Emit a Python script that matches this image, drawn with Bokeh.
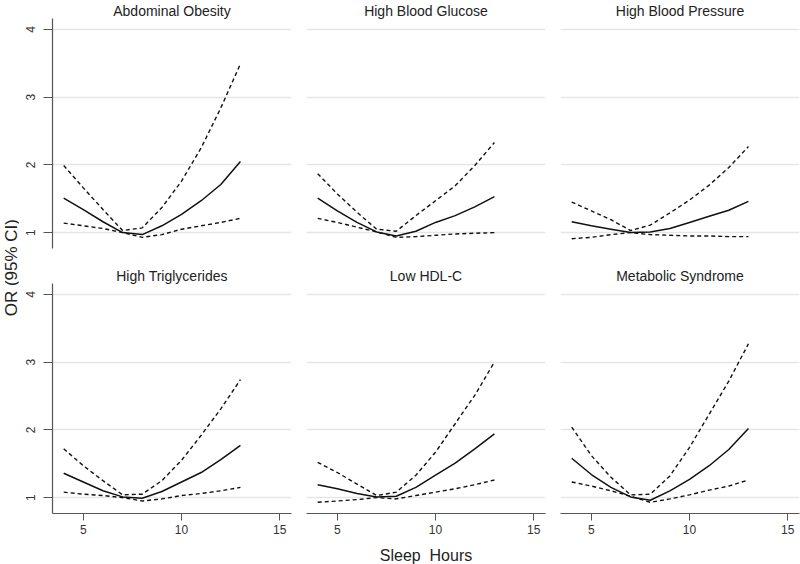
from bokeh.plotting import figure
from bokeh.layouts import row, column
from bokeh.models import Div, FixedTicker, Range1d
from bokeh.embed import file_html
from bokeh.resources import INLINE

hours = [4, 5, 6, 7, 8, 9, 10, 11, 12, 13]

titles = ["Abdominal Obesity", "High Blood Glucose", "High Blood Pressure",
          "High Triglycerides", "Low HDL-C", "Metabolic Syndrome"]

or_abd = [1.51, 1.34, 1.16, 1.00, 0.97, 1.10, 1.27, 1.47, 1.71, 2.05]
lo_abd = [1.14, 1.10, 1.06, 1.00, 0.93, 0.97, 1.05, 1.10, 1.15, 1.21]
hi_abd = [1.99, 1.66, 1.34, 1.03, 1.07, 1.37, 1.76, 2.25, 2.84, 3.49]

or_glu = [1.51, 1.32, 1.15, 1.01, 0.95, 1.02, 1.15, 1.25, 1.38, 1.53]
lo_glu = [1.21, 1.15, 1.08, 1.01, 0.93, 0.94, 0.96, 0.98, 0.99, 1.00]
hi_glu = [1.87, 1.57, 1.30, 1.05, 1.02, 1.25, 1.47, 1.69, 1.99, 2.33]

or_bp = [1.16, 1.10, 1.05, 1.00, 1.01, 1.06, 1.15, 1.24, 1.33, 1.46]
lo_bp = [0.91, 0.93, 0.97, 1.00, 0.97, 0.96, 0.95, 0.95, 0.94, 0.94]
hi_bp = [1.45, 1.32, 1.19, 1.03, 1.11, 1.29, 1.48, 1.70, 1.96, 2.27]

or_tg = [1.36, 1.23, 1.10, 1.01, 0.99, 1.09, 1.23, 1.37, 1.56, 1.77]
lo_tg = [1.08, 1.05, 1.03, 1.00, 0.95, 0.98, 1.03, 1.06, 1.10, 1.15]
hi_tg = [1.72, 1.47, 1.25, 1.04, 1.05, 1.25, 1.55, 1.92, 2.31, 2.74]

or_hdl = [1.19, 1.13, 1.06, 1.01, 1.02, 1.15, 1.33, 1.51, 1.72, 1.94]
lo_hdl = [0.93, 0.95, 0.97, 1.00, 0.98, 1.03, 1.08, 1.13, 1.19, 1.26]
hi_hdl = [1.52, 1.37, 1.20, 1.03, 1.08, 1.33, 1.67, 2.09, 2.51, 3.00]

or_mets = [1.58, 1.34, 1.15, 1.01, 0.96, 1.10, 1.27, 1.47, 1.71, 2.02]
lo_mets = [1.23, 1.17, 1.10, 1.02, 0.93, 0.98, 1.04, 1.11, 1.17, 1.26]
hi_mets = [2.04, 1.62, 1.30, 1.04, 1.05, 1.32, 1.74, 2.23, 2.72, 3.27]

series = [(or_abd, lo_abd, hi_abd), (or_glu, lo_glu, hi_glu), (or_bp, lo_bp, hi_bp),
          (or_tg, lo_tg, hi_tg), (or_hdl, lo_hdl, hi_hdl), (or_mets, lo_mets, hi_mets)]

x_ticks = [5, 10, 15]
y_ticks = [1, 2, 3, 4]

FONT = "Liberation Sans"
FW, FH = 239, 230
GAP = 15
LEFT_AXIS = 34
DIV_W = 18


def make_panel(i):
    r, c = divmod(i, 3)
    left = c == 0
    bottom = r == 1
    p = figure(frame_width=FW, frame_height=FH,
               x_range=Range1d(3.43, 15.6), y_range=Range1d(0.765, 4.16),
               output_backend="svg", toolbar_location=None, title=titles[i],
               min_border_left=LEFT_AXIS if left else 0,
               min_border_right=GAP if c < 2 else 1,
               min_border_top=0,
               min_border_bottom=17 if not bottom else 0)
    p.outline_line_color = None
    p.background_fill_color = "white"
    p.border_fill_color = "white"
    p.title.align = "center"
    p.title.text_font = FONT
    p.title.text_font_size = "14px"
    p.title.text_font_style = "normal"
    p.title.text_color = "#222222"
    p.title.standoff = 0

    p.xgrid.visible = False
    p.ygrid.ticker = FixedTicker(ticks=y_ticks)
    p.ygrid.grid_line_color = "#e6e6e6"
    p.ygrid.grid_line_width = 1.5

    for ax in p.yaxis:
        ax.ticker = FixedTicker(ticks=y_ticks)
        ax.major_label_orientation = "vertical"
        ax.major_label_text_font = FONT
        ax.major_label_text_font_size = "12px"
        ax.major_label_text_color = "#333333"
        ax.axis_line_color = "#555555"
        ax.axis_line_width = 1.2
        ax.major_tick_line_color = "#555555"
        ax.major_tick_out = 9
        ax.major_tick_in = 0
        ax.minor_tick_line_color = None
        ax.major_label_standoff = 8
        ax.visible = left

    for ax in p.xaxis:
        ax.ticker = FixedTicker(ticks=x_ticks)
        ax.major_label_text_font = FONT
        ax.major_label_text_font_size = "12px"
        ax.major_label_text_color = "#333333"
        ax.axis_line_color = "#555555"
        ax.axis_line_width = 1.2
        ax.major_tick_line_color = "#555555"
        ax.major_tick_out = 7
        ax.major_tick_in = 0
        ax.minor_tick_line_color = None
        ax.major_label_standoff = 4
        ax.visible = bottom
        if bottom and c == 1:
            ax.axis_label = "Sleep\u00a0\u00a0Hours"
            ax.axis_label_text_font = FONT
            ax.axis_label_text_font_size = "16px"
            ax.axis_label_text_font_style = "normal"
            ax.axis_label_text_color = "#222222"
            ax.axis_label_standoff = 10

    o, lo, hi = series[i]
    p.line(hours, hi, line_color="#111111", line_width=1.4, line_dash="4 3")
    p.line(hours, lo, line_color="#111111", line_width=1.4, line_dash="4 3")
    p.line(hours, o, line_color="#111111", line_width=1.5)
    return p


panels = [make_panel(i) for i in range(6)]

ylab = Div(text=("<div style=\"height:536px;display:flex;align-items:center;justify-content:center;\">"
                 "<span style=\"writing-mode:vertical-rl;transform:rotate(180deg);white-space:nowrap;"
                 "font-family:'Liberation Sans';font-size:17px;color:#222222;\">OR (95% CI)</span></div>"),
           width=DIV_W, height=536, margin=0)

grid = column(row(*panels[:3], spacing=0), row(*panels[3:], spacing=0), spacing=0)
layout = row(ylab, grid, spacing=0)

open("out.html", "w").write(file_html(layout, INLINE))
